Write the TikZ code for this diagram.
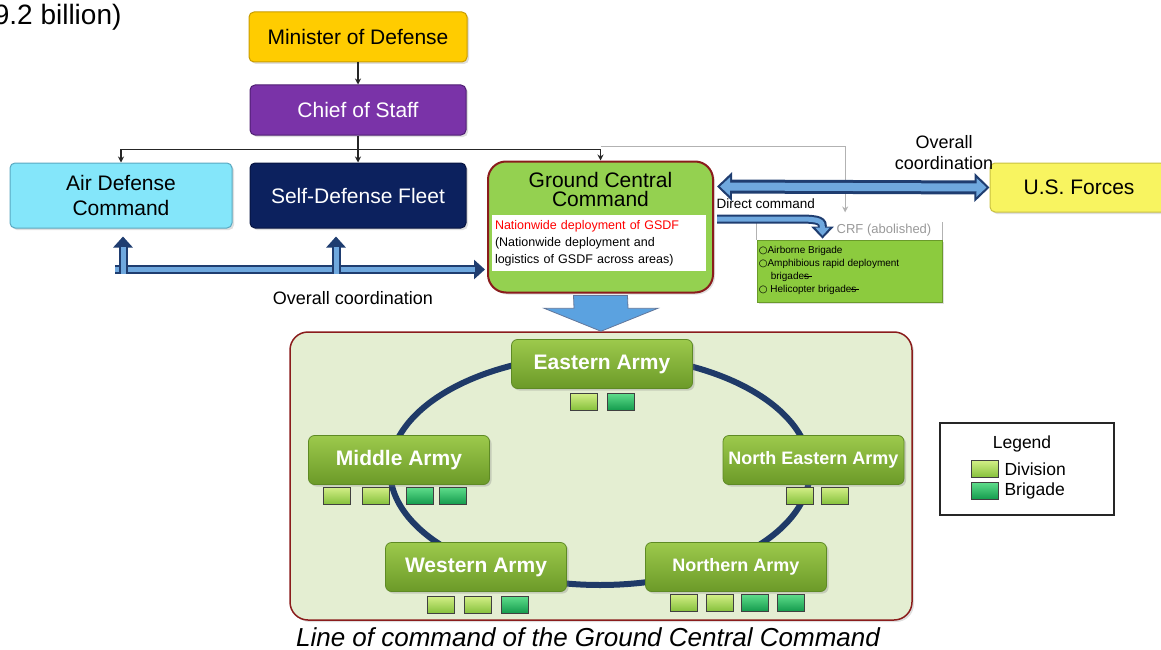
\documentclass[tikz,border=0pt]{standalone}
\usepackage{fontspec}
\setmainfont{Liberation Sans}
\newfontfamily\symfont{DejaVu Sans}
\usepackage{tikz}
\usetikzlibrary{calc,positioning}
\usetikzlibrary{shadows,arrows.meta}
\usepackage{xcolor}
\definecolor{mindef}{HTML}{FFCC00}
\definecolor{mindefline}{HTML}{C89B00}
\definecolor{chiefcol}{HTML}{7A33A8}
\definecolor{chiefline}{HTML}{4E1E72}
\definecolor{airdef}{HTML}{84E6FA}
\definecolor{airdefline}{HTML}{5AA8C0}
\definecolor{sdfblue}{HTML}{0C215E}
\definecolor{sdfline}{HTML}{071440}
\definecolor{gccgreen}{HTML}{94D150}
\definecolor{framered}{HTML}{8A1C1C}
\definecolor{usyellow}{HTML}{F8F460}
\definecolor{usline}{HTML}{C8C040}
\definecolor{crfgreen}{HTML}{8CCB3E}
\definecolor{crfline}{HTML}{6A9A2A}
\definecolor{framefill}{HTML}{E4EED2}
\definecolor{ringblue}{HTML}{1F3A68}
\definecolor{armytop}{HTML}{9CC94C}
\definecolor{armybot}{HTML}{6C9A28}
\definecolor{armyline}{HTML}{5E8A24}
\definecolor{divtop}{HTML}{D2EE86}
\definecolor{divbot}{HTML}{84C03A}
\definecolor{brigtop}{HTML}{5EDC8A}
\definecolor{brigbot}{HTML}{129A4C}
\definecolor{arrowdark}{HTML}{1F3D70}
\definecolor{arrowlight}{HTML}{6FA8DE}
\definecolor{bigarrow}{HTML}{5BA2E0}
\newcommand{\fsz}[1]{\fontsize{#1}{#1}\selectfont}
\newcommand{\strs}{\rlap{\rule[0.3em]{0.8em}{0.5pt}}s}

\begin{document}
\begin{tikzpicture}[x=1pt,y=-1pt,
  box/.style = {draw, rounded corners=5pt, line width=1pt, minimum width=216pt,
    minimum height=50pt, inner sep=0pt, align=center, font=\fsz{21},
    drop shadow={opacity=.25,shadow xshift=2pt,shadow yshift=-2pt}},
  link/.style = {draw=black!85, line width=1.1pt, -{Stealth[length=6pt,width=6pt]}},
  greylink/.style = {draw=black!30, line width=1.1pt, -{Stealth[length=6pt,width=6pt]}},
  bout/.style = {draw=arrowdark, line width=9pt},
  bin/.style = {draw=arrowlight, line width=5pt},
  army/.style = {draw=armyline, line width=.8pt, rounded corners=6pt, top color=armytop,
    bottom color=armybot, minimum width=181pt, minimum height=49pt, inner sep=0pt,
    text=white, font=\bfseries\fsz{21},
    drop shadow={opacity=.3,shadow xshift=2pt,shadow yshift=-2pt}},
  div/.style = {draw=black!75, line width=.8pt, top color=divtop, bottom color=divbot,
    minimum width=27pt, minimum height=17pt, inner sep=0pt},
  brig/.style = {div, top color=brigtop, bottom color=brigbot}]

\useasboundingbox (0,0) rectangle (1161,650);

\node[anchor=base east, font=\fsz{28}] (budget) at (125,25) {9.2 billion)};

% top of the chain
\node[box, fill=mindef, draw=mindefline, minimum width=218pt] (minister) at (358,37) {Minister of Defense};
\node[box, fill=chiefcol, draw=chiefline, text=white] (chief) [below=22pt of minister] {Chief of Staff};
\node[box, fill=airdef, draw=airdefline, minimum width=222pt, minimum height=65pt,
  font=\fontsize{21}{25}\selectfont] (adc) at (121,195.5) {Air Defense\\Command};
\node[box, fill=sdfblue, draw=sdfline, text=white, minimum height=65pt] (sdf) at (358,195.5) {Self-Defense Fleet};
\node[box, fill=usyellow, draw=usline, minimum width=178pt, minimum height=49pt] (us) at (1079,187.5) {U.S. Forces};

% ground central command
\node[draw=framered, line width=2pt, fill=gccgreen, rounded corners=18pt, minimum width=225pt,
  minimum height=131pt, drop shadow={opacity=.25,shadow xshift=2pt,shadow yshift=-2pt}] (gcc) at (600.5,227) {};
\node[font=\fontsize{21}{19}\selectfont, align=center] (gcctitle) at (600.5,189) {Ground Central\\Command};
\node[fill=white, minimum width=214pt, minimum height=56pt, text width=208pt, inner sep=3pt,
  align=left, font=\fontsize{12.5}{17}\selectfont] (gccnote) at (599,243)
  {\textcolor{red}{Nationwide deployment of GSDF}\\(Nationwide deployment and\\logistics of GSDF across areas)};

% CRF
\node[draw=crfline, line width=.8pt, fill=crfgreen, minimum width=185pt, minimum height=62pt,
  drop shadow={opacity=.25,shadow xshift=2pt,shadow yshift=-2pt}] (crf) at (849.5,271) {};
\node[anchor=north west, align=left, inner sep=2pt, font=\fontsize{10}{13}\selectfont] (crfitems) at ($(crf.north west)+(0,4)$)
  {{\symfont○}Airborne Brigade\\{\symfont○}Amphibious rapid deployment\\\hspace{1.2em}brigade\strs\\{\symfont○} Helicopter brigade\strs};
\node[font=\fsz{13}, text=black!40] (crflabel) at (884,230) {CRF (abolished)};
\draw[draw=black!30, line width=1.2pt] (crf.north west) -- ++(0,-18);
\draw[draw=black!30, line width=1.2pt] (crf.north east) -- ++(0,-18);

% labels
\node[font=\fontsize{18}{21}\selectfont, align=center] (coordus) at (944,153) {Overall\\coordination};
\node[font=\fsz{18}] (coordlow) at (353,298) {Overall coordination};
\node[font=\fsz{13.5}, anchor=west] (direct) at (713,204) {Direct command};

% command lines
\draw[link] (minister) -- (chief);
\draw[link] (chief) -- (sdf);
\draw[link] ($(chief.south)+(0,14)$) -| (adc);
\draw[link] ($(chief.south)+(0,14)$) -| (gcc);
\draw[greylink] ($(gcc.north)+(0,-14)$) -| ($(crflabel.north west)+(12,-8)$);

% coordination arrows
\draw[bout, line width=14pt, {Triangle[length=15pt,width=28pt]}-{Triangle[length=15pt,width=28pt]}]
  ($(gcc.north east)+(3,26)$) -- (us.west);
\draw[bin, line width=8pt, {Triangle[length=10pt,width=18pt]}-{Triangle[length=10pt,width=18pt]},
  shorten <=3pt, shorten >=3pt] ($(gcc.north east)+(3,26)$) -- (us.west);

\draw[bout, -{Triangle[length=12pt,width=22pt]}] ($(gcc.east)+(3,-8)$) -- ($(gcc.east)+(85,-8)$)
  .. controls ($(gcc.east)+(107,-8)$) and ($(crf.north)+(-27,-18)$) .. ($(crf.north)+(-27,-1)$);
\draw[bin, -{Triangle[length=8pt,width=14pt]}, shorten >=3pt] ($(gcc.east)+(3,-8)$) -- ($(gcc.east)+(85,-8)$)
  .. controls ($(gcc.east)+(107,-8)$) and ($(crf.north)+(-27,-18)$) .. ($(crf.north)+(-27,-1)$);

\draw[bout, -{Triangle[length=11pt,width=19pt]}] ($(adc.south)+(-6,41)$) -- ($(adc.south -| gcc.west)+(-2,41)$);
\draw[bin, shorten >=10pt] ($(adc.south)+(-6,41)$) -- ($(adc.south -| gcc.west)+(-2,41)$);
\draw[bout, -{Triangle[length=11pt,width=19pt]}] ($(adc.south)+(2,45)$) -- ($(adc.south)+(2,8)$);
\draw[bin, shorten >=10pt] ($(adc.south)+(2,45)$) -- ($(adc.south)+(2,8)$);
\draw[bout, -{Triangle[length=11pt,width=19pt]}] ($(sdf.south)+(-22,45)$) -- ($(sdf.south)+(-22,8)$);
\draw[bin, shorten >=10pt] ($(sdf.south)+(-22,45)$) -- ($(sdf.south)+(-22,8)$);

% armies
\node[draw=framered, line width=1.5pt, fill=framefill, rounded corners=18pt, minimum width=622pt,
  minimum height=288pt, drop shadow={opacity=.25,shadow xshift=2pt,shadow yshift=-2pt}] (frame) at (601,476) {};
\draw[draw=arrowdark!70, fill=bigarrow, line width=.8pt]
  ($(gcc.south)+(-27,2)$) -- ($(gcc.south)+(27,2)$) -- ($(frame.north)+(27,-23)$) -- ($(frame.north)+(57,-23)$)
  -- (frame.north) -- ($(frame.north)+(-57,-23)$) -- ($(frame.north)+(-27,-23)$) -- cycle;
\draw[draw=ringblue, line width=6pt] (600,470) ellipse [x radius=210pt, y radius=115pt];

\node[army] (eastern) at (602,364) {Eastern Army};
\node[army] (middle) at (399,460) {Middle Army};
\node[army, font=\bfseries\fsz{18}] (northeast) at (813.5,460) {North Eastern Army};
\node[army] (western) at (476,567) {Western Army};
\node[army, font=\bfseries\fsz{18}] (northern) at (736,567) {Northern Army};

\foreach \n/\x/\s in {1/584/div,2/621/brig}
  \node[\s] (east\n) at (\x,402) {};
\foreach \n/\x/\s in {1/337/div,2/376/div,3/420/brig,4/453/brig}
  \node[\s] (mid\n) at (\x,496) {};
\foreach \n/\x/\s in {1/800/div,2/835/div}
  \node[\s] (ne\n) at (\x,496) {};
\foreach \n/\x/\s in {1/441/div,2/478/div,3/515/brig}
  \node[\s] (west\n) at (\x,605) {};
\foreach \n/\x/\s in {1/684/div,2/720/div,3/755/brig,4/791/brig}
  \node[\s] (north\n) at (\x,603) {};

% legend
\node[draw=black!85, line width=1.2pt, fill=white, minimum width=174pt, minimum height=92pt] (legend) at (1027,469) {};
\node[font=\fsz{17.5}] (legendtitle) at (1022,444) {Legend};
\node[div] (legdiv) at (985,469) {};
\node[font=\fsz{17.5}, anchor=west] (legdivtext) at (1001,469) {Division};
\node[brig] (legbrig) at (985,491) {};
\node[font=\fsz{17.5}, anchor=west] (legbrigtext) at (1001,491) {Brigade};

\node[anchor=base, font=\itshape\fsz{26}] (caption) at (588,646) {Line of command of the Ground Central Command};
\end{tikzpicture}
\end{document}
